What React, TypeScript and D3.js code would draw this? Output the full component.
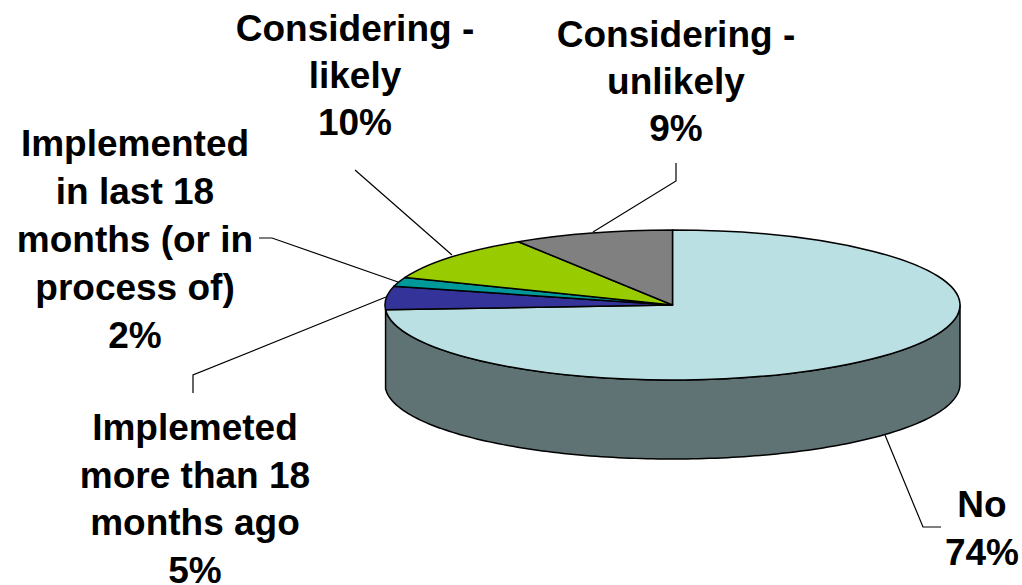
import React from "react";
import * as d3 from "d3";

const categories = [
  "No",
  "Implemeted more than 18 months ago",
  "Implemented in last 18 months (or in process of)",
  "Considering - likely",
  "Considering - unlikely",
];
const shares = [74, 5, 2, 10, 9];
const topColors = ["#BBE0E3", "#333399", "#009999", "#99CC00", "#808080"];
const wallColor = "#5F7374";

// Each label: wrapped lines, centre x and the baseline of its first line.
const labelLines = [
  ["No", "74%"],
  ["Implemeted", "more than 18", "months ago", "5%"],
  ["Implemented", "in last 18", "months (or in", "process of)", "2%"],
  ["Considering -", "likely", "10%"],
  ["Considering -", "unlikely", "9%"],
];
const labelAnchors: [number, number][] = [
  [982, 517],
  [195, 440],
  [135, 156],
  [355, 41],
  [676, 47],
];
const labelLeading = [47.5, 47.7, 48, 47, 47];

const leaders: [number, number][][] = [
  [[885, 435], [923, 527], [941, 527]],
  [[193, 393], [193, 375], [386, 297]],
  [[259, 238], [272, 238], [398, 282]],
  [[355, 170], [452, 255]],
  [[676, 163], [676, 181], [593, 232]],
];

const cx = 672.5;
const cy = 305;
const rx = 287.5;
const ry = 75;
const depth = 79;

const pie = d3.pie<number>().sort(null).startAngle(0).endAngle(2 * Math.PI);
const arcs = pie(shares);
const unitArc = d3.arc<d3.PieArcDatum<number>>().innerRadius(0).outerRadius(1);

// Point on the tilted rim; angle runs clockwise from twelve o'clock.
const rimX = d3.scaleLinear().domain([-1, 1]).range([cx - rx, cx + rx]);
const rimY = d3.scaleLinear().domain([-1, 1]).range([cy - ry, cy + ry]);
const rim = (a: number, drop = 0): [number, number] => [
  rimX(Math.sin(a)),
  rimY(-Math.cos(a)) + drop,
];

// The side wall is visible along the front half of the rim, down to where
// the "No" slice ends.
const wallAngles = d3.range(Math.PI / 2, arcs[0].endAngle, 0.02).concat(arcs[0].endAngle);
const wallPath = (() => {
  const line = d3.line();
  const upper = wallAngles.map((a) => rim(a));
  const lower = wallAngles.map((a) => rim(a, depth)).reverse();
  return line([...upper, ...lower]) + "Z";
})();

export default function App() {
  return (
    <svg
      width={1022}
      height={585}
      style={{ position: "absolute", left: 0, top: 0, background: "#fff" }}
      fontFamily="'Liberation Sans', Arial, sans-serif"
    >
      <path d={wallPath} fill={wallColor} stroke="#000" strokeWidth={1.5} strokeLinejoin="round" />
      {arcs.map((d, i) => (
        <path
          key={categories[i]}
          d={unitArc(d) ?? ""}
          transform={`translate(${cx},${cy}) scale(${rx},${ry})`}
          fill={topColors[i]}
          stroke="#000"
          strokeWidth={1.5}
          strokeLinejoin="round"
          vectorEffect="non-scaling-stroke"
        />
      ))}
      {leaders.map((pts, i) => (
        <polyline key={i} points={pts.join(" ")} fill="none" stroke="#000" strokeWidth={1.2} />
      ))}
      {labelLines.map((lines, i) => (
        <text
          key={categories[i]}
          textAnchor="middle"
          fontSize={37}
          fontWeight="bold"
          fill="#000"
        >
          {lines.map((t, j) => (
            <tspan key={j} x={labelAnchors[i][0]} y={labelAnchors[i][1] + j * labelLeading[i]}>
              {t}
            </tspan>
          ))}
        </text>
      ))}
    </svg>
  );
}
